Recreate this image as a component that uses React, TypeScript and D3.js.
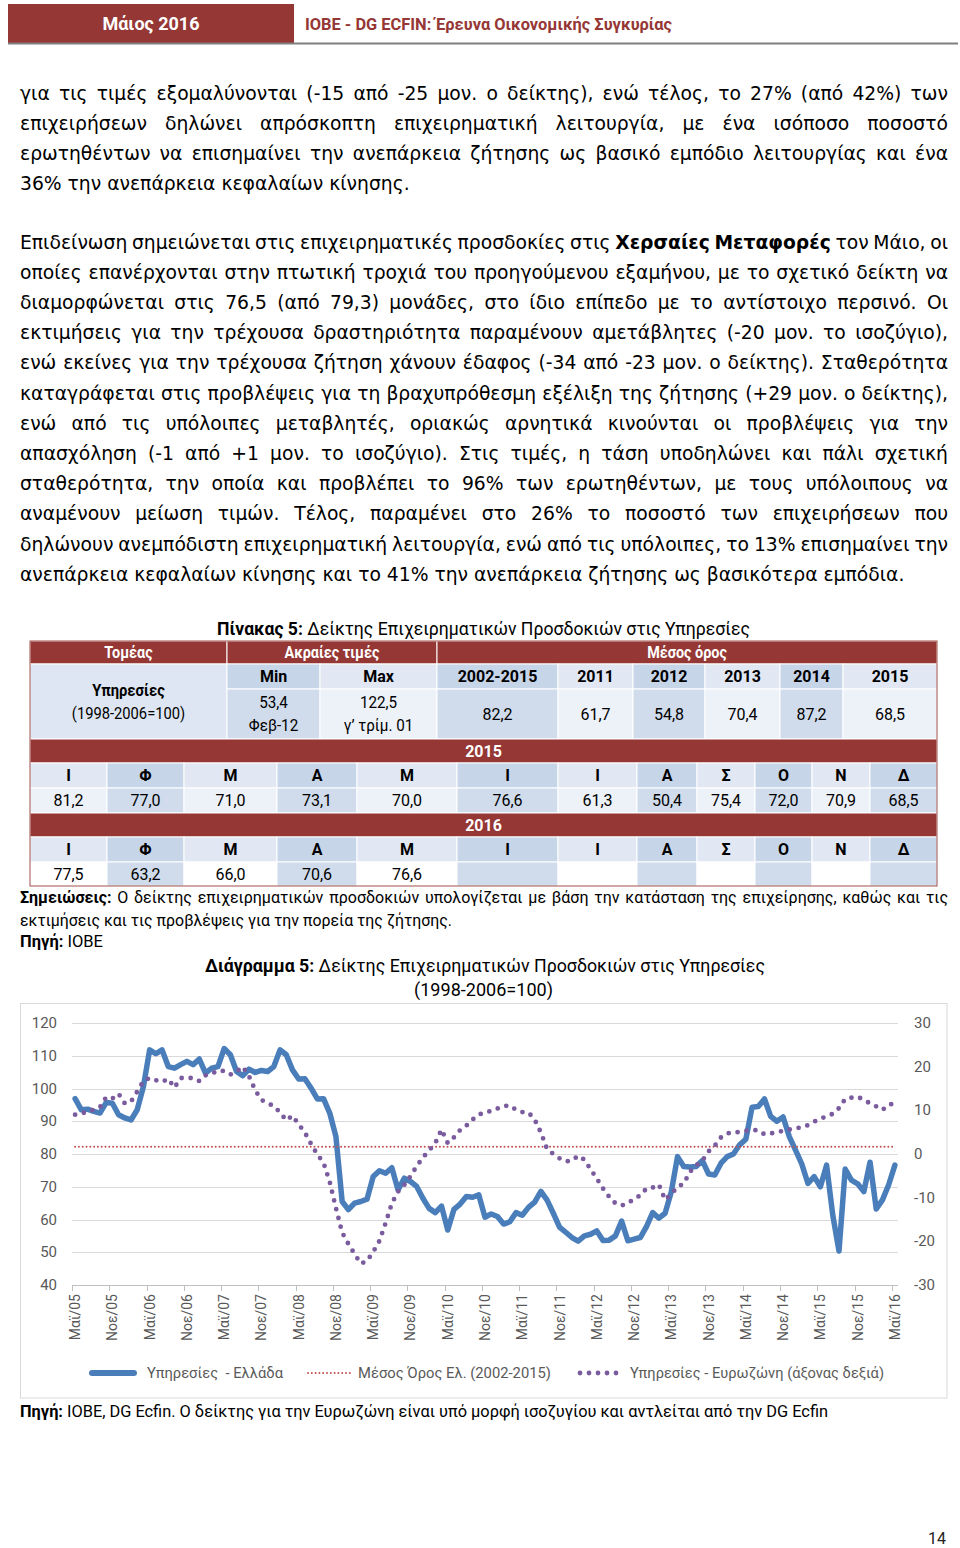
import React from 'react';
import * as d3 from 'd3';

// ---------------- DATA ----------------
// Greek services confidence index (1998-2006=100), monthly May 2005 .. May 2016
const greeceServices: number[] = [
  96.9, 93.5, 93.7, 93.0, 92.5, 95.7, 95.5, 92.0, 91.0, 90.4,
  93.5, 100.6, 111.8, 110.6, 111.8, 106.7, 106.2, 107.3, 108.3, 107.3,
  109.0, 104.7, 106.2, 106.7, 112.2, 110.3, 105.2, 103.9, 105.9, 104.9,
  105.5, 105.2, 106.7, 111.8, 110.3, 105.7, 102.9, 103.0, 100.1, 96.8,
  96.9, 92.5, 85.3, 65.5, 63.0, 65.0, 65.5, 66.2, 73.1, 74.9,
  74.1, 75.8, 69.0, 72.6, 71.6, 70.1, 66.5, 63.4, 62.1, 64.1,
  56.8, 63.1, 64.7, 67.0, 66.8, 67.5, 60.7, 61.7, 60.9, 58.6,
  59.3, 62.1, 61.3, 63.7, 65.3, 68.6, 65.9, 61.9, 57.7, 56.1,
  54.5, 53.4, 55.0, 55.5, 56.5, 53.6, 53.7, 55.0, 59.5, 53.5,
  54.0, 54.5, 57.8, 62.1, 60.4, 61.9, 68.5, 79.2, 76.2, 76.0,
  76.2, 78.0, 73.9, 73.6, 77.2, 79.2, 80.0, 82.8, 84.5, 94.3,
  94.5, 96.8, 91.5, 90.0, 91.3, 85.3, 81.2, 77.0, 71.0, 73.1,
  70.0, 76.6, 61.3, 50.4, 75.4, 72.0, 70.9, 68.5, 77.5, 63.2,
  66.0, 70.6, 76.6,
];

// Eurozone services confidence (balance, right axis)
const eurozoneServices: number[] = [
  9.0, 9.2, 9.8, 10.1, 10.7, 13.0, 12.7, 13.8, 11.6, 12.0,
  14.3, 16.7, 17.4, 16.9, 16.5, 17.2, 15.2, 17.4, 17.4, 17.4,
  16.7, 18.0, 18.4, 19.1, 19.0, 18.2, 18.9, 20.0, 17.8, 14.6,
  12.4, 11.6, 11.0, 9.5, 7.7, 8.8, 6.8, 4.9, 2.3, -0.1,
  -2.0, -6.4, -12.4, -18.0, -20.6, -22.9, -25.1, -24.5, -22.4, -19.9,
  -15.8, -11.3, -8.6, -7.1, -5.1, -2.8, -0.8, 0.8, 2.5, 5.6,
  2.5, 3.8, 5.5, 6.5, 7.9, 9.0, 9.6, 9.8, 10.4, 11.0,
  11.1, 10.1, 9.6, 9.5, 7.9, 4.9, 1.1, 0.0, -1.0, -1.7,
  -1.5, -0.4, -1.3, -3.5, -5.6, -7.9, -9.8, -11.3, -11.8, -11.3,
  -10.3, -9.5, -7.9, -7.7, -7.0, -10.5, -9.2, -7.5, -6.8, -4.1,
  -2.6, -1.5, 0.6, 1.9, 3.8, 4.7, 5.0, 5.0, 5.3, 5.5,
  5.4, 4.5, 4.7, 5.0, 5.3, 5.6, 5.9, 6.1, 6.6, 7.4,
  8.1, 8.6, 9.2, 10.5, 12.6, 12.9, 13.1, 12.4, 11.6, 10.9,
  10.1, 11.3, 11.6,
];

const greeceAverage = 82.2; // 2002-2015

const xTickLabels = [
  'Μαϊ/05', 'Νοε/05', 'Μαϊ/06', 'Νοε/06', 'Μαϊ/07', 'Νοε/07', 'Μαϊ/08', 'Νοε/08',
  'Μαϊ/09', 'Νοε/09', 'Μαϊ/10', 'Νοε/10', 'Μαϊ/11', 'Νοε/11', 'Μαϊ/12', 'Νοε/12',
  'Μαϊ/13', 'Νοε/13', 'Μαϊ/14', 'Νοε/14', 'Μαϊ/15', 'Νοε/15', 'Μαϊ/16',
];
const leftAxisTicks = [40, 50, 60, 70, 80, 90, 100, 110, 120];
const rightAxisTicks = [-30, -20, -10, 0, 10, 20, 30];
const legendLabels = ['Υπηρεσίες  - Ελλάδα', 'Μέσος Όρος Ελ. (2002-2015)', 'Υπηρεσίες - Ευρωζώνη (άξονας δεξιά)'];

// Table data
const avgPeriods = ['2002-2015', '2011', '2012', '2013', '2014', '2015'];
const avgValues = ['82,2', '61,7', '54,8', '70,4', '87,2', '68,5'];
const minValue = ['53,4', 'Φεβ-12'];
const maxValue = ['122,5', 'γ’ τρίμ. 01'];
const monthInitials = ['Ι', 'Φ', 'Μ', 'Α', 'Μ', 'Ι', 'Ι', 'Α', 'Σ', 'Ο', 'Ν', 'Δ'];
const values2015 = ['81,2', '77,0', '71,0', '73,1', '70,0', '76,6', '61,3', '50,4', '75,4', '72,0', '70,9', '68,5'];
const values2016 = ['77,5', '63,2', '66,0', '70,6', '76,6'];

// Text
const paragraph1 = [
  'για τις τιμές εξομαλύνονται (-15 από -25 μον. ο δείκτης), ενώ τέλος, το 27% (από 42%) των',
  'επιχειρήσεων δηλώνει απρόσκοπτη επιχειρηματική λειτουργία, με ένα ισόποσο ποσοστό',
  'ερωτηθέντων να επισημαίνει την ανεπάρκεια ζήτησης ως βασικό εμπόδιο λειτουργίας και ένα',
  '36% την ανεπάρκεια κεφαλαίων κίνησης.',
];
const paragraph2 = [
  'Επιδείνωση σημειώνεται στις επιχειρηματικές προσδοκίες στις **Χερσαίες Μεταφορές** τον Μάιο, οι',
  'οποίες επανέρχονται στην πτωτική τροχιά του προηγούμενου εξαμήνου, με το σχετικό δείκτη να',
  'διαμορφώνεται στις 76,5 (από 79,3) μονάδες, στο ίδιο επίπεδο με το αντίστοιχο περσινό. Οι',
  'εκτιμήσεις για την τρέχουσα δραστηριότητα παραμένουν αμετάβλητες (-20 μον. το ισοζύγιο),',
  'ενώ εκείνες για την τρέχουσα ζήτηση χάνουν έδαφος (-34 από -23 μον. ο δείκτης). Σταθερότητα',
  'καταγράφεται στις προβλέψεις για τη βραχυπρόθεσμη εξέλιξη της ζήτησης (+29 μον. ο δείκτης),',
  'ενώ από τις υπόλοιπες μεταβλητές, οριακώς αρνητικά κινούνται οι προβλέψεις για την',
  'απασχόληση (-1 από +1 μον. το ισοζύγιο). Στις τιμές, η τάση υποδηλώνει και πάλι σχετική',
  'σταθερότητα, την οποία και προβλέπει το 96% των ερωτηθέντων, με τους υπόλοιπους να',
  'αναμένουν μείωση τιμών. Τέλος, παραμένει στο 26% το ποσοστό των επιχειρήσεων που',
  'δηλώνουν ανεμπόδιστη επιχειρηματική λειτουργία, ενώ από τις υπόλοιπες, το 13% επισημαίνει την',
  'ανεπάρκεια κεφαλαίων κίνησης και το 41% την ανεπάρκεια ζήτησης ως βασικότερα εμπόδια.',
];
const notesLines = [
  '**Σημειώσεις:** Ο δείκτης επιχειρηματικών προσδοκιών υπολογίζεται με βάση την κατάσταση της επιχείρησης, καθώς και τις',
  'εκτιμήσεις και τις προβλέψεις για την πορεία της ζήτησης.',
];

// ---------------- helpers ----------------
const CAL = 'Roboto';
const BODY = '"DejaVu Sans"';
let ctx: CanvasRenderingContext2D | null = null;
function measure(t: string, font: string): number {
  if (!ctx) ctx = document.createElement('canvas').getContext('2d');
  if (!ctx) return t.length * 8;
  ctx.font = font;
  return ctx.measureText(t).width;
}
const fontStr = (b: boolean, size: number, fam: string) => `${b ? 'bold ' : ''}${size}px ${fam}`;

function parseWords(line: string) {
  const out: { w: string; b: boolean }[] = [];
  line.split('**').forEach((p, idx) => {
    p.split(' ').filter((s) => s.length).forEach((w) => out.push({ w, b: idx % 2 === 1 }));
  });
  return out;
}

function JustLine(props: {
  line: string; x0: number; x1: number; y: number; size: number; family: string;
  justify: boolean; squeeze?: number; fill?: string;
}) {
  const { line, x0, x1, y, size, family, justify, fill = '#000' } = props;
  const squeeze = props.squeeze ?? 1;
  const words = parseWords(line);
  const widths = words.map((w) => measure(w.w, fontStr(w.b, size, family)) * squeeze);
  const total = widths.reduce((a, b) => a + b, 0);
  const space = measure(' ', fontStr(false, size, family)) * squeeze;
  const gap = justify && words.length > 1 ? Math.max((x1 - x0 - total) / (words.length - 1), space * 0.4) : space;
  let x = x0;
  return (
    <g>
      {words.map((w, i) => {
        const el = (
          <text key={i} x={x} y={y} fontFamily={family} fontSize={size} fontWeight={w.b ? 700 : 400} fill={fill}
            textLength={squeeze !== 1 ? widths[i] : undefined} lengthAdjust={squeeze !== 1 ? 'spacingAndGlyphs' : undefined}>
            {w.w}
          </text>
        );
        x += widths[i] + gap;
        return el;
      })}
    </g>
  );
}

function RichText(props: {
  text: string; x: number; y: number; anchor?: 'start' | 'middle' | 'end'; width?: number; scale?: number;
  size: number; family?: string; fill?: string; allBold?: boolean;
}) {
  const { text, x, y, anchor = 'start', width, size, family = CAL, fill = '#000', allBold = false } = props;
  const parts = text.split('**').map((p, i) => ({ t: p, b: allBold || i % 2 === 1 })).filter((p) => p.t.length);
  const ws = parts.map((p) => measure(p.t, fontStr(p.b, size, family)));
  const total = ws.reduce((a, b) => a + b, 0);
  const k = width ? width / total : props.scale ?? 1;
  const W = total * k;
  let x0 = anchor === 'middle' ? x - W / 2 : anchor === 'end' ? x - W : x;
  return (
    <g>
      {parts.map((p, i) => {
        const el = (
          <text key={i} x={x0} y={y} fontFamily={family} fontSize={size} fontWeight={p.b ? 700 : 400} fill={fill}
            style={{ whiteSpace: 'pre' }}
            textLength={k !== 1 ? ws[i] * k : undefined} lengthAdjust={k !== 1 ? 'spacingAndGlyphs' : undefined}>
            {p.t}
          </text>
        );
        x0 += ws[i] * k;
        return el;
      })}
    </g>
  );
}

// ---------------- Table ----------------
const RED = '#953735';
const LBL_DARK = '#c7d5e9';
const LBL_LIGHT = '#e1e8f3';
const VAL_DARK = '#d0dcec';
const VAL_LIGHT = '#edf1f8';

type Cell = { x0: number; x1: number; y0: number; y1: number; fill: string; lines: string[]; bold: boolean; color: string; sq?: number };

function Table() {
  const topCols = [30, 227, 320, 437, 558, 633, 705, 780, 843, 937];
  const monthCols = [30, 107, 184, 277, 357, 457, 558, 637, 697, 755, 812, 870, 937];
  const rows = [641, 664, 689, 739, 763, 788, 813, 837, 862, 886];
  const cells: Cell[] = [];
  cells.push({ x0: 30, x1: 227, y0: rows[0], y1: rows[1], fill: RED, lines: ['Τομέας'], bold: true, color: '#fff', sq: 0.9 });
  cells.push({ x0: 227, x1: 437, y0: rows[0], y1: rows[1], fill: RED, lines: ['Ακραίες τιμές'], bold: true, color: '#fff', sq: 0.9 });
  cells.push({ x0: 437, x1: 937, y0: rows[0], y1: rows[1], fill: RED, lines: ['Μέσος όρος'], bold: true, color: '#fff', sq: 0.9 });
  cells.push({ x0: 30, x1: 227, y0: rows[1], y1: rows[3], fill: '#dde6f2', lines: ['**Υπηρεσίες**', '(1998-2006=100)'], bold: false, color: '#000', sq: 0.92 });
  cells.push({ x0: 227, x1: 320, y0: rows[1], y1: rows[2], fill: LBL_DARK, lines: ['Min'], bold: true, color: '#000' });
  cells.push({ x0: 320, x1: 437, y0: rows[1], y1: rows[2], fill: LBL_LIGHT, lines: ['Max'], bold: true, color: '#000' });
  cells.push({ x0: 227, x1: 320, y0: rows[2], y1: rows[3], fill: VAL_DARK, lines: minValue, bold: false, color: '#000', sq: 0.95 });
  cells.push({ x0: 320, x1: 437, y0: rows[2], y1: rows[3], fill: VAL_LIGHT, lines: maxValue, bold: false, color: '#000', sq: 0.95 });
  avgPeriods.forEach((p, i) => {
    cells.push({ x0: topCols[3 + i], x1: topCols[4 + i], y0: rows[1], y1: rows[2], fill: i % 2 === 0 ? LBL_DARK : LBL_LIGHT, lines: [p], bold: true, color: '#000' });
    cells.push({ x0: topCols[3 + i], x1: topCols[4 + i], y0: rows[2], y1: rows[3], fill: i % 2 === 0 ? VAL_DARK : VAL_LIGHT, lines: [avgValues[i]], bold: false, color: '#000' });
  });
  cells.push({ x0: 30, x1: 937, y0: rows[3], y1: rows[4], fill: RED, lines: ['2015'], bold: true, color: '#fff' });
  monthInitials.forEach((m, i) => {
    cells.push({ x0: monthCols[i], x1: monthCols[i + 1], y0: rows[4], y1: rows[5], fill: i % 2 === 1 ? LBL_DARK : LBL_LIGHT, lines: [m], bold: true, color: '#000' });
    cells.push({ x0: monthCols[i], x1: monthCols[i + 1], y0: rows[5], y1: rows[6], fill: i % 2 === 1 ? VAL_DARK : VAL_LIGHT, lines: [values2015[i]], bold: false, color: '#000' });
  });
  cells.push({ x0: 30, x1: 937, y0: rows[6], y1: rows[7], fill: RED, lines: ['2016'], bold: true, color: '#fff' });
  monthInitials.forEach((m, i) => {
    cells.push({ x0: monthCols[i], x1: monthCols[i + 1], y0: rows[7], y1: rows[8], fill: i % 2 === 1 ? LBL_DARK : LBL_LIGHT, lines: [m], bold: true, color: '#000' });
    cells.push({ x0: monthCols[i], x1: monthCols[i + 1], y0: rows[8], y1: rows[9], fill: i % 2 === 1 ? VAL_DARK : '#ffffff', lines: values2016[i] ? [values2016[i]] : [], bold: false, color: '#000' });
  });

  return (
    <g>
      {cells.map((c, i) => (
        <rect key={'r' + i} x={c.x0} y={c.y0} width={c.x1 - c.x0} height={c.y1 - c.y0} fill={c.fill} stroke="#fff" strokeWidth={1} />
      ))}
      <rect x={30} y={641} width={907} height={245} fill="none" stroke="#a0504d" strokeWidth={1} />
      {cells.map((c, i) => {
        const cx = (c.x0 + c.x1) / 2;
        const n = c.lines.length;
        const cy = (c.y0 + c.y1) / 2;
        const lh = 23;
        return (
          <g key={'t' + i}>
            {c.lines.map((ln, j) => (
              <RichText key={j} text={ln} x={cx} y={cy + (j - (n - 1) / 2) * lh + 5.5} anchor="middle" size={16}
                allBold={c.bold} fill={c.color} scale={c.sq ?? 1} />
            ))}
          </g>
        );
      })}
    </g>
  );
}

// ---------------- Chart ----------------
function Chart() {
  const n = greeceServices.length;
  const x = d3.scaleBand<number>().domain(d3.range(n)).range([72, 898]).paddingInner(0).paddingOuter(0);
  const bw = x.bandwidth();
  const xc = (i: number) => (x(i) as number) + bw / 2;
  const yL = d3.scaleLinear().domain([40, 120]).range([1285, 1023]);
  const yR = d3.scaleLinear().domain([-30, 30]).range([1285, 1023]);
  const lineL = d3.line<number>().x((_, i) => xc(i)).y((d) => yL(d));
  const lineR = d3.line<number>().x((_, i) => xc(i)).y((d) => yR(d));
  const avgLine = d3.line<number>().x((_, i) => xc(i)).y(() => yL(greeceAverage));
  const tickIdx = xTickLabels.map((_, k) => k * 6);
  const gray = '#595959';
  return (
    <g>
      <rect x={20.5} y={1003.5} width={926.5} height={394.5} fill="#fff" stroke="#d9d9d9" strokeWidth={1} />
      {leftAxisTicks.slice(1).map((t) => (
        <line key={t} x1={72} x2={898} y1={Math.round(yL(t)) + 0.5} y2={Math.round(yL(t)) + 0.5} stroke="#d9d9d9" strokeWidth={1} />
      ))}
      <line x1={72} x2={898} y1={1285.5} y2={1285.5} stroke="#bfbfbf" strokeWidth={1} />
      {tickIdx.map((i) => (
        <line key={i} x1={Math.round(x(i) as number) + 0.5} x2={Math.round(x(i) as number) + 0.5} y1={1285} y2={1291} stroke="#bfbfbf" strokeWidth={1} />
      ))}
      {leftAxisTicks.map((t) => (
        <text key={t} x={57} y={yL(t) + 5} textAnchor="end" fontFamily={CAL} fontSize={15} fill={gray}>{t}</text>
      ))}
      {rightAxisTicks.map((t) => (
        <text key={t} x={914} y={yR(t) + 5} textAnchor="start" fontFamily={CAL} fontSize={15} fill={gray}>{t}</text>
      ))}
      {tickIdx.map((i, k) => (
        <text key={k} transform={`translate(${xc(i) + 5},1294) rotate(-90)`} textAnchor="end" fontFamily={CAL} fontSize={14} fill={gray}>
          {xTickLabels[k]}
        </text>
      ))}
      <path d={lineL(greeceServices) || ''} fill="none" stroke="#4a7ebb" strokeWidth={5.5} strokeLinejoin="round" strokeLinecap="round" />
      <path d={avgLine(greeceServices) || ''} fill="none" stroke="#c0504d" strokeWidth={2} strokeDasharray="0 3.8" strokeLinecap="round" />
      <path d={lineR(eurozoneServices) || ''} fill="none" stroke="#7a5c9e" strokeWidth={4.8} strokeDasharray="0 9" strokeLinecap="round" strokeLinejoin="round" />
      {/* legend */}
      <line x1={92} x2={134} y1={1373} y2={1373} stroke="#4a7ebb" strokeWidth={6} strokeLinecap="round" />
      <RichText text={legendLabels[0]} x={147} y={1378} size={14} fill={gray} width={136} />
      <line x1={308} x2={350} y1={1373} y2={1373} stroke="#c0504d" strokeWidth={2} strokeDasharray="0 3.8" strokeLinecap="round" />
      <RichText text={legendLabels[1]} x={358} y={1378} size={14} fill={gray} width={193} />
      <line x1={580} x2={620} y1={1373} y2={1373} stroke="#7a5c9e" strokeWidth={4.8} strokeDasharray="0 9" strokeLinecap="round" />
      <RichText text={legendLabels[2]} x={630} y={1378} size={14} fill={gray} width={254} />
    </g>
  );
}

export default function App() {
  const lastLine = paragraph2[paragraph2.length - 1];
  const words = parseWords(lastLine);
  const nat = words.reduce((a, w) => a + measure(w.w, fontStr(w.b, 18, BODY)), 0) + (words.length - 1) * measure(' ', fontStr(false, 18, BODY));
  const bodySize = Math.min(19, 18 * 885 / nat);
  return (
    <svg width={960} height={1548} style={{ position: 'absolute', left: 0, top: 0, display: 'block', background: '#fff' }}>
      {/* header */}
      <rect x={8} y={4} width={286} height={39} fill={RED} />
      <line x1={8} x2={958} y1={43.5} y2={43.5} stroke="#7f7f7f" strokeWidth={2} />
      <RichText text="Μάιος 2016" x={151} y={30} anchor="middle" size={18} allBold fill="#fff" width={97} />
      <RichText text="IOBE - DG ECFIN: Έρευνα Οικονομικής Συγκυρίας" x={305} y={30} size={16} allBold fill={RED} width={367} />

      {paragraph1.map((ln, i) => (
        <JustLine key={'p1' + i} line={ln} x0={20} x1={948} y={99.5 + i * 30.2} size={bodySize} family={BODY} justify={i < paragraph1.length - 1} />
      ))}
      {paragraph2.map((ln, i) => (
        <JustLine key={'p2' + i} line={ln} x0={20} x1={948} y={248.5 + i * 30.2} size={bodySize} family={BODY} justify={i < paragraph2.length - 1} />
      ))}

      <RichText text="**Πίνακας 5:** Δείκτης Επιχειρηματικών Προσδοκιών στις Υπηρεσίες" x={483.5} y={635} anchor="middle" size={18} width={533} />
      <Table />

      <JustLine line={notesLines[0]} x0={20} x1={948} y={903} size={16} family={CAL} justify />
      <RichText text={notesLines[1]} x={20} y={926} size={16} width={432} />
      <RichText text="**Πηγή:** ΙΟΒΕ" x={20} y={947} size={16} width={83} />

      <RichText text="**Διάγραμμα 5:** Δείκτης Επιχειρηματικών Προσδοκιών στις Υπηρεσίες" x={485} y={972} anchor="middle" size={18} width={560} />
      <RichText text="(1998-2006=100)" x={483.5} y={996} anchor="middle" size={18} width={139} />

      <Chart />

      <RichText text="**Πηγή:** ΙΟΒΕ, DG Ecfin. Ο δείκτης για την Ευρωζώνη είναι υπό μορφή ισοζυγίου και αντλείται από την DG Ecfin" x={20} y={1417} size={16} width={808} />
      <text x={946} y={1544} textAnchor="end" fontFamily={CAL} fontSize={16} fill="#222">14</text>
    </svg>
  );
}
